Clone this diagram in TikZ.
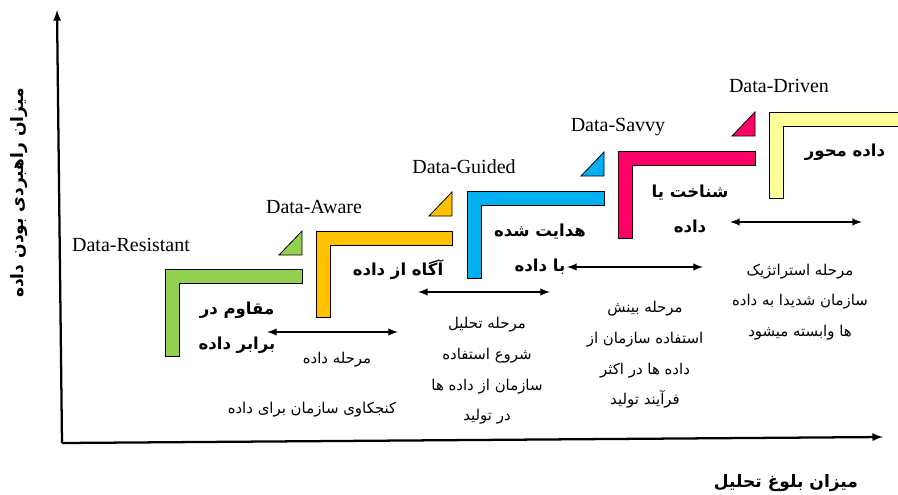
\documentclass[tikz,border=0pt]{standalone}
\usepackage{fontspec}
\setmainfont{Liberation Serif}
\newfontfamily\farsi[Script=Arabic]{DejaVu Sans}
\TeXXeTstate=1
\newcommand{\rtl}[1]{\beginR #1\endR}
\usetikzlibrary{arrows}

\definecolor{stepgreen}{HTML}{92D050}
\definecolor{stepgold}{HTML}{FFC000}
\definecolor{stepblue}{HTML}{00B0F0}
\definecolor{steppink}{HTML}{FF0066}
\definecolor{steplight}{HTML}{FFFF99}

\begin{document}
\begin{tikzpicture}[x=0.75pt, y=-0.75pt,
    stagename/.style={font=\fontsize{15}{17}\selectfont},
    stagetitle/.style={font=\farsi\bfseries\fontsize{12.4}{26}\selectfont, align=center},
    stagenote/.style={font=\farsi\fontsize{11.2}{23}\selectfont, align=center},
    axislabel/.style={font=\farsi\bfseries\fontsize{12.8}{15}\selectfont},
    span/.style={<->, >=latex, line width=1.5pt}
]
    \useasboundingbox (0,0) rectangle (898,494);

    % Axes
    \coordinate (origin) at (62,443);
    \coordinate (ytop) at (57,10);
    \coordinate (xend) at (883,437);
    \draw[->, >=latex, line width=1.7pt] (origin) -- (ytop);
    \draw[->, >=latex, line width=1.7pt] (origin) -- (xend);
    \node[axislabel, rotate=90] (ylabel) at (19,193) {\rtl{میزان راهبردی بودن داده}};
    \node[axislabel] (xlabel) at (786,483) {\rtl{میزان بلوغ تحلیل}};

    % Steps (left, top, right, bottom)
    \foreach \lx/\ty/\rx/\by/\col in {165/269/302/356/stepgreen, 316/231/452/317/stepgold,
        467/191/604/278/stepblue, 618/151/755/238/steppink, 769/112/910/198/steplight} {
        \draw[fill=\col, line width=0.6pt] (\lx,\by) -- (\lx,\ty) -- (\rx,\ty) -- (\rx,\ty+14)
            -- (\lx+14,\ty+14) -- (\lx+14,\by) -- cycle;
    }
    \foreach \rx/\ty/\col in {302/231/stepgreen, 452/192/stepgold, 604/152/stepblue, 755/112/steppink} {
        \draw[fill=\col, line width=0.6pt] (\rx-23,\ty+24) -- (\rx,\ty+24) -- (\rx,\ty) -- cycle;
    }

    % Stage names
    \node[stagename] (resistant) at (131,245) {Data-Resistant};
    \node[stagename] (aware) at (314,207) {Data-Aware};
    \node[stagename] (guided) at (464,167) {Data-Guided};
    \node[stagename] (savvy) at (618,127) {Data-Savvy};
    \node[stagename] (driven) at (779,86) {Data-Driven};

    % Titles
    \node[stagetitle] (tresistant) at (237,328) {\rtl{مقاوم در}\\\rtl{برابر داده}};
    \node[stagetitle] (taware) at (398,270) {\rtl{آگاه از داده}};
    \node[stagetitle] (tguided) at (540,249) {\rtl{هدایت شده}\\\rtl{با داده}};
    \node[stagetitle] (tsavvy) at (690,209) {\rtl{شناخت یا}\\\rtl{داده}};
    \node[stagetitle] (tdriven) at (845,152) {\rtl{داده محور}};

    % Spans
    \coordinate (s1a) at (267,332); \coordinate (s1b) at (398,332);
    \coordinate (s2a) at (418,292); \coordinate (s2b) at (550,292);
    \coordinate (s3a) at (567,267); \coordinate (s3b) at (703,267);
    \coordinate (s4a) at (730,222); \coordinate (s4b) at (862,222);
    \draw[span] (s1a) -- (s1b);
    \draw[span] (s2a) -- (s2b);
    \draw[span] (s3a) -- (s3b);
    \draw[span] (s4a) -- (s4b);

    % Notes
    \node[stagenote] (nresistant) at (337,360) {\rtl{مرحله داده}};
    \node[stagenote] (nresistant2) at (312,410) {\rtl{کنجکاوی سازمان برای داده}};
    \node[stagenote] (naware) at (487,371) {\rtl{مرحله تحلیل}\\\rtl{شروع استفاده}\\\rtl{سازمان از داده ها}\\\rtl{در تولید}};
    \node[stagenote] (nguided) at (645,355) {\rtl{مرحله بینش}\\\rtl{استفاده سازمان از}\\\rtl{داده ها در اکثر}\\\rtl{فرآیند تولید}};
    \node[stagenote] (nsavvy) at (800,302) {\rtl{مرحله استراتژیک}\\\rtl{سازمان شدیدا به داده}\\\rtl{ها وابسته میشود}};
\end{tikzpicture}
\end{document}
